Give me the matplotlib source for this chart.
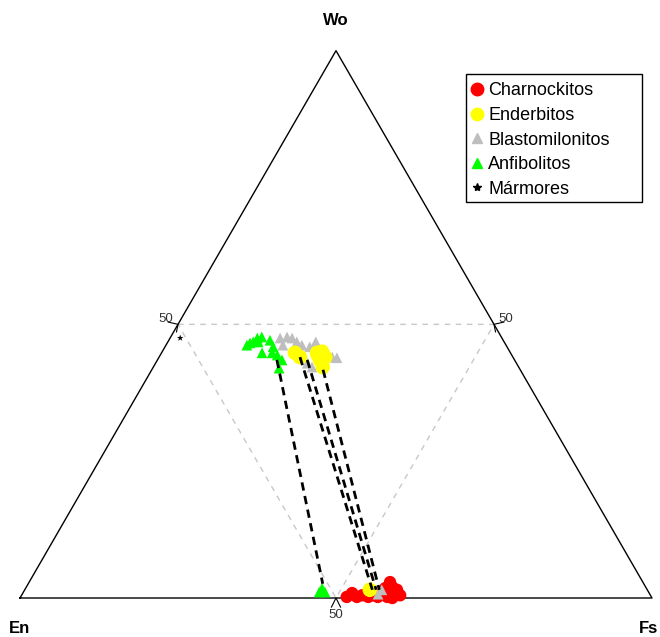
import matplotlib
matplotlib.use("Agg")
import matplotlib.pyplot as plt
from matplotlib.lines import Line2D
from matplotlib.patches import Rectangle
import numpy as np

plt.rcParams['font.family'] = ['Liberation Sans', 'DejaVu Sans']

# ternary data, percentages (Wo, Fs); En = 100 - Wo - Fs
charno_wo = [0.2, 0.2, 0.5, 0.2, 0.5, 1.1, 2.9, 2.0, 1.5, 0.5, 0.0, 0.2, 1.8, 0.9, 0.2]
charno_fs = [51.6, 53.2, 53.9, 55.0, 55.6, 56.9, 57.1, 57.9, 58.9, 59.9, 58.9, 58.0, 56.9, 52.1, 56.5]

ender_wo = [44.8, 44.0, 44.8, 45.0, 44.0, 42.2, 43.5, 44.3, 1.5]
ender_fs = [21.1, 22.3, 24.6, 25.3, 26.3, 26.8, 25.7, 25.0, 54.6]

blasto_wo = [47.5, 47.7, 47.5, 46.8, 46.2, 46.2, 45.9, 44.8, 44.0, 43.9, 42.9, 42.2, 42.6, 46.8, 0.7, 1.5]
blasto_fs = [17.4, 18.4, 19.3, 20.4, 21.5, 18.5, 22.9, 26.2, 27.4, 28.2, 24.0, 25.1, 26.2, 23.4, 56.3, 56.5]

anfib_wo = [46.2, 46.6, 46.8, 47.5, 47.7, 46.8, 44.8, 45.9, 44.8, 44.4, 43.5, 42.0, 47.1, 1.8, 1.1, 1.1]
anfib_fs = [12.8, 13.1, 13.5, 13.8, 14.4, 14.3, 15.9, 17.1, 17.5, 18.5, 19.7, 20.0, 16.0, 46.9, 46.8, 47.7]

marm_wo = [47.5]
marm_fs = [1.6]

# tie lines: (Wo, Fs) upper -> (Wo, Fs) lower
tie_wo_a = [43.5, 44.0, 43.5, 41.7]
tie_fs_a = [18.9, 22.3, 23.7, 27.1]
tie_wo_b = [2.6, 1.5, 1.5, 1.5]
tie_fs_b = [46.6, 55.0, 55.6, 56.1]


def tern(wo, fs):
    wo = np.asarray(wo) / 100.0
    fs = np.asarray(fs) / 100.0
    return fs + wo / 2, wo * np.sqrt(3) / 2


fig = plt.figure(figsize=(6.6, 6.37), dpi=100)
ax = fig.add_axes([0, 0, 1, 1])
ax.set_xlim(-20 / 632, 640 / 632)
ax.set_ylim(-39 / 632, 598 / 632)
ax.axis('off')

h = np.sqrt(3) / 2
# outer triangle
ax.plot([0, 1, 0.5, 0], [0, 0, h, 0], color='black', lw=1.0, zorder=2)
# 50% guide lines
ax.plot([0.25, 0.75, 0.5, 0.25], [h / 2, h / 2, 0, h / 2], color='#c8c8c8',
        lw=1.0, ls=(0, (4, 4)), zorder=1)

# ticks at 50
tk = 0.012
ax.plot([0.5 - tk * 0.6, 0.5, 0.5 + tk * 0.6], [-tk * 1.2, 0, -tk * 1.2], color='black', lw=0.8)
ax.plot([0.25 - tk * 1.3, 0.25, 0.25 - tk * 0.2], [h / 2 + tk * 0.3, h / 2, h / 2 - tk * 1.0], color='black', lw=0.8)
ax.plot([0.75 + tk * 1.3, 0.75, 0.75 + tk * 0.2], [h / 2 + tk * 0.3, h / 2, h / 2 - tk * 1.0], color='black', lw=0.8)
ax.text(0.5, -0.018, '50', ha='center', va='top', fontsize=9.5, color='#333333')
ax.text(0.243, h / 2 + 0.008, '50', ha='right', va='center', fontsize=9.5, color='#333333')
ax.text(0.757, h / 2 + 0.008, '50', ha='left', va='center', fontsize=9.5, color='#333333')

ax.text(0.5, h + 0.047, 'Wo', ha='center', va='center', fontsize=12, fontweight='bold')
ax.text(0.0, -0.048, 'En', ha='center', va='center', fontsize=12, fontweight='bold')
ax.text(0.995, -0.048, 'Fs', ha='center', va='center', fontsize=12, fontweight='bold')

# points
x, y = tern(charno_wo, charno_fs)
ax.scatter(x, y, s=80, marker='o', color='#ff0000', edgecolors='none', zorder=3)
x, y = tern(blasto_wo, blasto_fs)
ax.scatter(x, y, s=60, marker='^', color='#bebebe', edgecolors='none', zorder=4)
x, y = tern(ender_wo, ender_fs)
ax.scatter(x, y, s=110, marker='o', color='#ffff00', edgecolors='none', zorder=5)
x, y = tern(anfib_wo, anfib_fs)
ax.scatter(x, y, s=60, marker='^', color='#00ff00', edgecolors='none', zorder=5)
x, y = tern(marm_wo, marm_fs)
ax.scatter(x, y, s=25, marker='*', color='black', edgecolors='none', zorder=5)

# tie lines
xa, ya = tern(tie_wo_a, tie_fs_a)
xb, yb = tern(tie_wo_b, tie_fs_b)
for i in range(len(xa)):
    ax.plot([xa[i], xb[i]], [ya[i], yb[i]], color='black', lw=2.0, ls=(0, (3, 2)), zorder=6)

handles = [
    Line2D([], [], ls='none', marker='o', color='#ff0000', markersize=9),
    Line2D([], [], ls='none', marker='o', color='#ffff00', markersize=9),
    Line2D([], [], ls='none', marker='^', color='#bebebe', markersize=7),
    Line2D([], [], ls='none', marker='^', color='#00ff00', markersize=7),
    Line2D([], [], ls='none', marker='*', color='black', markersize=6),
]
labels = ['Charnockitos', 'Enderbitos', 'Blastomilonitos', 'Anfibolitos', 'Mármores']
leg = ax.legend(handles, labels, loc='upper left', bbox_to_anchor=(466 / 660, 1 - 77 / 637),
                bbox_transform=fig.transFigure, fontsize=13, frameon=False,
                handlelength=0.6, handletextpad=0.32, labelspacing=0.42,
                borderpad=0.3, borderaxespad=0)
fig.patches.append(Rectangle((466 / 660, 1 - 202 / 637), 176 / 660, 128 / 637,
                             transform=fig.transFigure, fill=False, edgecolor='black', lw=1.0))

fig.savefig('out.png', dpi=100)
